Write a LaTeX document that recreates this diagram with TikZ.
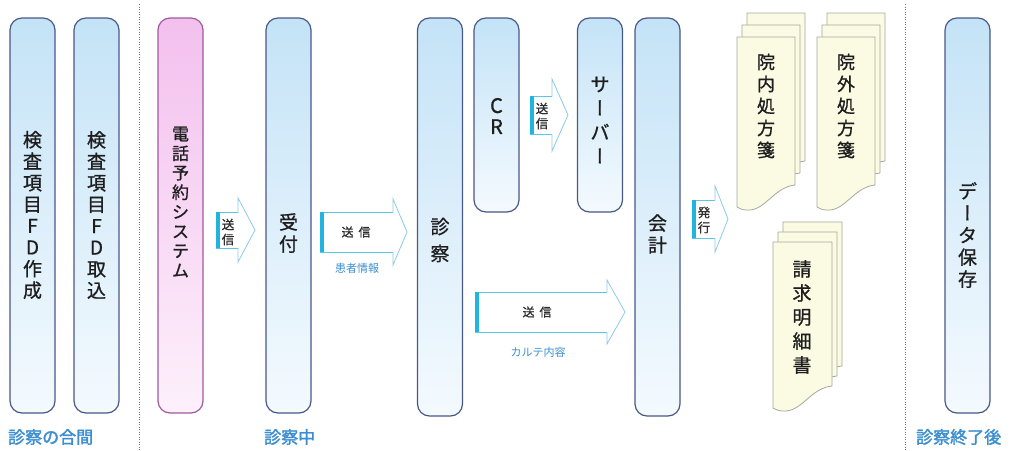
\documentclass[tikz,border=0pt]{standalone}
\usepackage{fontspec}
\newfontfamily\jp[FakeBold=0.9]{Noto Sans CJK JP}
\newfontfamily\jpr{Noto Sans CJK JP}
\newfontfamily\jpv[RawFeature=+vert,FakeBold=0.9]{Noto Sans CJK JP}
\newfontfamily\jpb[FakeBold=2]{Noto Sans CJK JP}
\definecolor{boxline}{HTML}{4A5888}
\definecolor{boxtop}{HTML}{C4E3F7}
\definecolor{boxbot}{HTML}{F4FAFE}
\definecolor{pinkline}{HTML}{A05A9C}
\definecolor{pinktop}{HTML}{F3C0EE}
\definecolor{pinkbot}{HTML}{FDF0FB}
\definecolor{arrline}{HTML}{5CC6E6}
\definecolor{arrhead}{HTML}{8CCBEB}
\definecolor{arrbar}{HTML}{22B4E0}
\definecolor{docfill}{HTML}{FBFAE3}
\definecolor{docline}{HTML}{A8A89A}
\definecolor{sepcol}{HTML}{6A7390}
\definecolor{lblblue}{HTML}{3D8ED0}
\definecolor{txtcol}{HTML}{1E1E1E}
\definecolor{arrtxt}{HTML}{2E2E2E}
\tikzset{
  colbox/.style={draw=boxline, line width=1.2pt, rounded corners=12pt, top color=boxtop, bottom color=boxbot, minimum width=45pt, inner sep=0pt},
  pinkbox/.style={colbox, draw=pinkline, top color=pinktop, bottom color=pinkbot},
  vtxt/.style={align=center, text=txtcol, inner sep=0pt},
  arrbody/.style={draw=arrline, line width=1pt},
  arrheadl/.style={draw=arrhead, line width=0.8pt},
  arrbarl/.style={draw=arrbar, line width=4pt},
  docpage/.style={fill=docfill, draw=docline, line width=0.8pt, line join=round},
  sepline/.style={draw=sepcol, line width=1pt, dash pattern=on 1pt off 1.5pt},
  phase/.style={text=lblblue, font=\jpb\fontsize{17}{20}\selectfont, anchor=west, inner sep=0pt},
  sublbl/.style={text=lblblue, font=\jpr\fontsize{11}{13}\selectfont, inner sep=0pt},
  arrlbl/.style={text=arrtxt, inner sep=0pt, align=center},
}
% block arrow: #1 left x, #2 head start x, #3 tip x, #4 centre y, #5 body half, #6 head half
\newcommand\blockarrow[6]{%
  \fill[white] (#1,#4-#5) -- (#2,#4-#5) -- (#2,#4-#6) -- (#3,#4) -- (#2,#4+#6) -- (#2,#4+#5) -- (#1,#4+#5) -- cycle;
  \draw[arrbody] (#2,#4-#5) -- (#1,#4-#5) -- (#1,#4+#5) -- (#2,#4+#5);
  \draw[arrheadl] (#2,#4-#5) -- (#2,#4-#6) -- (#3,#4) -- (#2,#4+#6) -- (#2,#4+#5);
  \draw[arrbarl] (#1+2,#4-#5) -- (#1+2,#4+#5);
}
% document page: #1 x0, #2 y0, #3 width, #4 bottom-left y
\newcommand\docpage[4]{%
  \filldraw[docpage] (#1,#2) -- (#1+#3,#2) -- (#1+#3,#4-22)
    .. controls (#1+0.65*#3,#4-20) and (#1+0.5*#3,#4+2) .. (#1+0.22*#3,#4+3)
    .. controls (#1+0.1*#3,#4+3) .. (#1,#4) -- cycle;
}
\begin{document}
\begin{tikzpicture}[x=1pt,y=-1pt]
\useasboundingbox (0,0) rectangle (1028,450);
\fill[white] (0,0) rectangle (1028,450);

% separators
\draw[sepline] (139,4) -- (139,450);
\draw[sepline] (905,4) -- (905,450);

% column boxes
\node[colbox, minimum height=395pt] (b1) at (32.5,215.5) {};
\node[colbox, minimum height=395pt] (b2) at (96.5,215.5) {};
\node[pinkbox, minimum height=395pt] (b3) at (180.5,215.5) {};
\node[colbox, minimum height=395pt] (b4) at (288.5,215.5) {};
\node[colbox, minimum height=398pt] (b5) at (440,217) {};
\node[colbox, minimum height=194pt] (b6) at (496.5,115) {};
\node[colbox, minimum height=194pt] (b7) at (600,115) {};
\node[colbox, minimum height=398pt] (b8) at (657.5,217) {};
\node[colbox, minimum height=395pt] (b9) at (967.5,215.5) {};

% box texts
\node[vtxt, font=\jp\fontsize{19}{21.5}\selectfont] (t1) at (32.5,215) {検\\査\\項\\目\\F\\D\\作\\成};
\node[vtxt, font=\jp\fontsize{19}{21.5}\selectfont] (t2) at (96.5,215) {検\\査\\項\\目\\F\\D\\取\\込};
\node[vtxt, font=\jp\fontsize{17}{19.5}\selectfont] (t3) at (180.5,202) {電\\話\\予\\約\\シ\\ス\\テ\\ム};
\node[vtxt, font=\jp\fontsize{19}{22}\selectfont] (t4) at (288.5,233) {受\\付};
\node[vtxt, font=\jp\fontsize{19}{27}\selectfont] (t5) at (440,240) {診\\察};
\node[vtxt, font=\jp\fontsize{20}{21}\selectfont] (t6) at (496.5,116) {C\\R};
\node[vtxt, font=\jp\fontsize{19}{24}\selectfont] (t7) at (600,120) {サ\\{\jpv ー}\\バ\\{\jpv ー}};
\node[vtxt, font=\jp\fontsize{19}{22}\selectfont] (t8) at (657.5,234) {会\\計};
\node[vtxt, font=\jp\fontsize{19}{22}\selectfont] (t9) at (967.5,235) {デ\\{\jpv ー}\\タ\\保\\存};

% block arrows
\blockarrow{216}{238}{255}{230}{18}{32}
\node[arrlbl, font=\jp\fontsize{12.5}{15}\selectfont] (a1) at (228,232) {送\\信};
\blockarrow{320}{393}{407}{232}{20}{33}
\node[arrlbl, font=\jp\fontsize{12}{14}\selectfont] (a2) at (356,232) {送\hspace{5pt}信};
\node[sublbl] (a2l) at (357,268) {患者情報};
\blockarrow{530}{552}{568}{115}{19}{36}
\node[arrlbl, font=\jp\fontsize{12.5}{15}\selectfont] (a3) at (542,116) {送\\信};
\blockarrow{692}{715}{728}{219}{19}{33}
\node[arrlbl, font=\jp\fontsize{12.5}{15}\selectfont] (a4) at (704,220) {発\\行};
\blockarrow{475}{607}{625}{312}{20}{32}
\node[arrlbl, font=\jp\fontsize{12}{14}\selectfont] (a5) at (537,312) {送\hspace{5pt}信};
\node[sublbl] (a5l) at (538,352) {カルテ内容};

% documents
\docpage{747}{13}{58}{183}
\docpage{742}{25}{58}{195}
\docpage{737}{37}{58}{207}
\node[vtxt, font=\jp\fontsize{18}{22}\selectfont] (d1) at (766,106) {院\\内\\処\\方\\箋};
\docpage{827}{13}{58}{183}
\docpage{822}{25}{58}{195}
\docpage{817}{37}{58}{207}
\node[vtxt, font=\jp\fontsize{18}{22}\selectfont] (d2) at (846,106) {院\\外\\処\\方\\箋};
\docpage{783}{222}{59}{388}
\docpage{778}{232}{59}{398}
\docpage{773}{242}{59}{408}
\node[vtxt, font=\jp\fontsize{19}{24}\selectfont] (d3) at (802,317) {請\\求\\明\\細\\書};

% phase labels
\node[phase] (p1) at (8,437) {診察の合間};
\node[phase] (p2) at (264,437) {診察中};
\node[phase] (p3) at (916,437) {診察終了後};
\end{tikzpicture}
\end{document}
